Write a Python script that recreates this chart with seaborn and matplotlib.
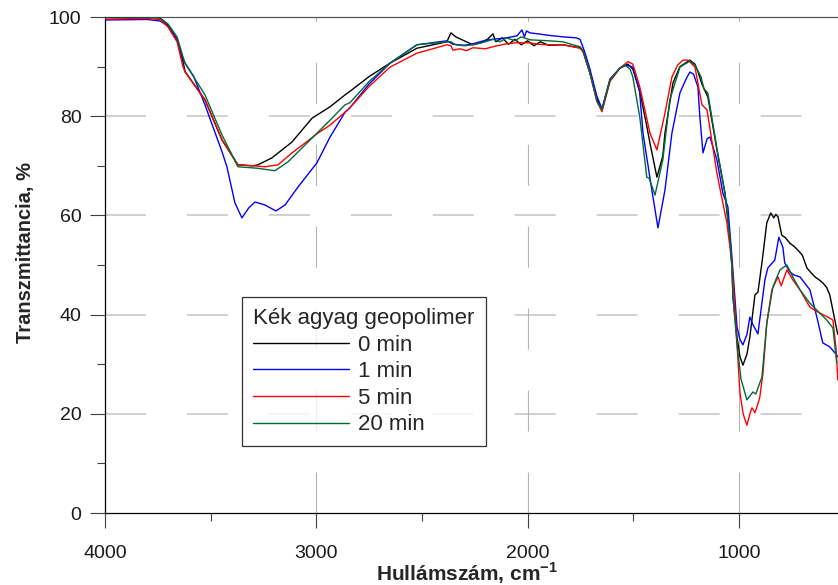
import matplotlib
matplotlib.use("Agg")
import matplotlib.pyplot as plt
import seaborn as sns
import pandas as pd
from matplotlib.lines import Line2D

# ---------------- data ----------------
series_names = ["0 min", "1 min", "5 min", "20 min"]
series_colors = ["#000000", "#0000ff", "#ff0000", "#006b35"]
legend_title = "Kék agyag geopolimer"
x_label = "Hullámszám, cm$^{\\mathbf{-1}}$"
y_label = "Transzmittancia, %"
x_ticks = [4000, 3000, 2000, 1000]
y_ticks = [0, 20, 40, 60, 80, 100]

wn_0 = [4000, 3800, 3740, 3702, 3659, 3631, 3621, 3527, 3446, 3371, 3300, 3276, 3210, 3115, 3020, 2935,
        2864, 2841, 2750, 2651, 2524, 2382, 2363, 2340, 2300, 2259, 2220, 2190, 2164, 2150, 2120, 2090,
        2060, 2030, 2000, 1970, 1940, 1900, 1833, 1752, 1738, 1705, 1672, 1648, 1610, 1563, 1525, 1502,
        1469, 1436, 1421, 1388, 1360, 1350, 1312, 1279, 1232, 1208, 1194, 1175, 1165, 1147, 1104, 1066,
        1043, 1033, 1028, 1009, 995, 981, 962, 948, 924, 910, 891, 868, 849, 835, 825, 815, 797, 780,
        759, 740, 721, 700, 678, 660, 640, 620, 603, 585, 570, 546, 532]
t_0 = [100.0, 100.0, 99.8, 98.4, 95.4, 91.0, 89.0, 83.3, 75.2, 70.2, 70.0, 70.2, 71.6, 74.8, 79.6, 81.9,
       84.3, 85.0, 88.0, 90.7, 93.7, 95.0, 96.8, 96.0, 95.2, 94.4, 94.8, 95.5, 96.6, 95.0, 95.8, 94.5,
       95.5, 94.4, 95.2, 94.2, 95.0, 94.3, 94.4, 93.8, 93.2, 88.7, 83.5, 81.3, 87.3, 89.7, 90.5, 89.5,
       85.0, 78.0, 74.6, 67.7, 72.0, 76.6, 86.7, 90.0, 91.3, 90.5, 89.0, 86.5, 85.5, 83.9, 73.2, 64.5,
       55.6, 49.6, 43.5, 35.5, 31.5, 29.8, 32.0, 35.5, 44.0, 44.5, 50.4, 58.5, 60.5, 59.5, 60.2, 59.7, 56.0, 55.5,
       54.4, 53.8, 53.0, 52.0, 49.4, 48.5, 47.6, 47.0, 46.4, 45.5, 44.0, 38.9, 36.0]

wn_1 = [4000, 3800, 3740, 3702, 3659, 3631, 3621, 3580, 3527, 3446, 3423, 3385, 3352, 3320, 3290, 3243,
        3191, 3148, 3087, 2997, 2935, 2864, 2841, 2750, 2651, 2524, 2382, 2353, 2300, 2259, 2200, 2164,
        2100, 2050, 2027, 2015, 2005, 1989, 1950, 1900, 1833, 1770, 1752, 1730, 1705, 1672, 1648, 1610,
        1563, 1535, 1502, 1470, 1454, 1412, 1383, 1350, 1317, 1279, 1250, 1232, 1215, 1194, 1185, 1170,
        1150, 1137, 1104, 1076, 1052, 1033, 1020, 1009, 995, 981, 962, 948, 934, 910, 877, 863, 830, 811,
        792, 783, 759, 740, 711, 664, 631, 603, 570, 546, 532]
t_1 = [99.4, 99.5, 99.2, 98.2, 95.4, 91.5, 90.7, 88.0, 82.3, 72.8, 69.8, 62.5, 59.5, 61.5, 62.7, 62.1,
       60.9, 62.1, 65.7, 70.6, 75.8, 80.8, 81.7, 86.5, 90.7, 94.4, 95.2, 94.5, 94.3, 94.6, 95.3, 95.5,
       95.8, 96.2, 97.4, 96.0, 97.2, 96.8, 96.6, 96.3, 96.0, 95.8, 95.5, 93.0, 89.5, 84.0, 81.5, 87.5,
       89.7, 90.3, 89.9, 85.0, 76.6, 65.1, 57.5, 65.1, 76.6, 84.7, 87.5, 88.9, 88.5, 85.9, 80.0, 72.6,
       75.5, 75.8, 71.2, 64.5, 61.7, 51.6, 44.0, 37.5, 35.0, 33.9, 36.0, 39.5, 38.0, 36.1, 47.0, 49.4, 51.0, 55.6,
       53.6, 50.4, 48.6, 48.0, 47.6, 45.0, 39.5, 34.3, 33.5, 32.3, 31.5]

wn_5 = [4000, 3800, 3740, 3702, 3659, 3631, 3621, 3527, 3446, 3371, 3300, 3243, 3181, 3115, 2992, 2935,
        2864, 2841, 2750, 2651, 2524, 2382, 2363, 2353, 2320, 2290, 2259, 2200, 2164, 2100, 2050, 1989,
        1950, 1900, 1833, 1752, 1738, 1705, 1672, 1648, 1610, 1563, 1525, 1502, 1469, 1421, 1388, 1350,
        1317, 1290, 1265, 1240, 1208, 1175, 1151, 1104, 1057, 1033, 1020, 995, 980, 962, 948, 938, 924,
        910, 901, 886, 868, 844, 815, 800, 773, 745, 711, 664, 617, 579, 555, 540, 532]
t_5 = [99.6, 99.7, 99.5, 98.0, 95.0, 90.0, 88.9, 83.3, 75.2, 70.2, 70.0, 69.8, 70.2, 72.6, 76.6, 78.2,
       80.8, 81.7, 86.0, 89.9, 92.7, 94.4, 94.2, 93.3, 93.6, 93.2, 93.8, 93.6, 94.0, 94.6, 94.8, 94.8,
       94.5, 94.4, 94.4, 93.7, 93.0, 88.7, 83.0, 80.9, 87.0, 89.7, 91.0, 90.5, 85.9, 76.6, 73.2, 80.6,
       87.9, 90.3, 91.3, 91.3, 89.9, 82.3, 81.3, 68.5, 58.5, 50.4, 42.0, 24.2, 20.0, 17.7, 20.0, 21.2, 20.2,
       22.0, 23.4, 28.2, 38.3, 45.0, 47.6, 45.8, 49.0, 47.0, 45.0, 41.5, 40.3, 39.5, 38.9, 33.0, 26.8]

wn_20 = [4000, 3800, 3740, 3702, 3659, 3631, 3621, 3527, 3446, 3371, 3276, 3196, 3134, 3020, 2935, 2864,
         2841, 2750, 2651, 2524, 2382, 2363, 2340, 2300, 2259, 2200, 2164, 2130, 2100, 2060, 2030, 1989,
         1900, 1833, 1752, 1738, 1705, 1672, 1648, 1610, 1563, 1540, 1515, 1502, 1469, 1436, 1425, 1397,
         1360, 1327, 1279, 1232, 1208, 1180, 1165, 1147, 1104, 1066, 1043, 1033, 1028, 1009, 990, 962, 934,
         920, 891, 868, 839, 806, 773, 745, 711, 664, 617, 584, 555, 537]
t_20 = [100.0, 100.0, 99.8, 98.6, 96.0, 92.0, 90.7, 84.3, 76.2, 69.8, 69.5, 69.0, 70.8, 75.6, 79.2, 82.3,
        82.7, 87.0, 90.7, 94.4, 95.0, 95.0, 94.4, 94.2, 94.4, 95.0, 95.5, 95.0, 95.8, 95.2, 96.0, 95.4,
        95.2, 95.0, 94.0, 93.3, 88.7, 83.0, 81.3, 87.3, 89.7, 90.3, 89.5, 87.9, 79.8, 67.7, 67.5, 64.1,
        71.2, 83.3, 89.9, 91.1, 90.3, 88.0, 85.5, 84.7, 73.5, 64.5, 55.6, 49.6, 43.5, 34.0, 27.0, 22.8, 24.4,
        24.0, 27.4, 38.3, 45.6, 49.0, 50.0, 47.6, 45.0, 42.3, 40.3, 38.9, 37.3, 30.2]

# ---------------- build table ----------------
frames = []
for name, wn, t in zip(series_names, [wn_0, wn_1, wn_5, wn_20], [t_0, t_1, t_5, t_20]):
    frames.append(pd.DataFrame({"wn": wn, "T": t, "series": name}))
df = pd.concat(frames, ignore_index=True)

# ---------------- style ----------------
sns.set_style("white")
plt.rcParams["font.family"] = ["Liberation Sans", "DejaVu Sans"]
plt.rcParams["mathtext.fontset"] = "custom"
plt.rcParams["mathtext.rm"] = "Liberation Sans"
plt.rcParams["mathtext.bf"] = "Liberation Sans:bold"
plt.rcParams["lines.scale_dashes"] = False

fig = plt.figure(figsize=(8.38, 5.85), dpi=100)
ax = fig.add_axes([105 / 838, 72 / 585, 733 / 838, 496 / 585])

# dashed grid (drawn under the data)
dash = (0, (29.5, 29.5))
for yv in [20, 40, 60, 80]:
    ax.axhline(yv, color="#c4c4c4", lw=1.1, linestyle=dash, zorder=0)
for xv in [3000, 2000, 1000]:
    ax.axvline(xv, color="#b4b4b4", lw=0.8, linestyle=dash, zorder=0)

sns.lineplot(data=df, x="wn", y="T", hue="series", palette=series_colors,
             hue_order=series_names, sort=False, estimator=None, lw=1.0, ax=ax, zorder=3)

ax.set_xlim(4000, 531)
ax.set_ylim(0, 100)
ax.set_xticks(x_ticks)
ax.set_xticks([3500, 2500, 1500], minor=True)
ax.set_yticks(y_ticks)
ax.set_yticks([10, 30, 50, 70, 90], minor=True)
ax.tick_params(axis="both", which="major", direction="out", length=11, width=0.8,
               color="#404040", labelsize=14, labelcolor="#1a1a1a")
ax.tick_params(axis="both", which="minor", direction="out", length=5.8, width=0.8, color="#404040")
ax.tick_params(axis="x", which="major", pad=12)
ax.tick_params(axis="y", which="major", pad=6)
ax.tick_params(bottom=True, left=True, which="both")

for side in ["left", "bottom"]:
    ax.spines[side].set_color("#000000")
    ax.spines[side].set_linewidth(0.9)
ax.spines["top"].set_color("#555555")
ax.spines["top"].set_linewidth(0.9)
ax.spines["right"].set_visible(False)

ax.set_xlabel(x_label, fontsize=15, fontweight="bold")
ax.set_ylabel(y_label, fontsize=14.5, fontweight="bold")
ax.xaxis.set_label_coords(0.494, -0.121)
ax.xaxis.label.set_verticalalignment("center")
ax.yaxis.set_label_coords(-0.108, 0.526)
ax.yaxis.label.set_verticalalignment("center")

handles = [Line2D([], [], color=c, lw=1.0) for c in series_colors]
leg = ax.legend(handles, series_names, title=legend_title, loc="upper left",
                bbox_to_anchor=(242 / 838, 1 - 297 / 585), bbox_transform=fig.transFigure,
                borderaxespad=0, fontsize=16, title_fontsize=16, handlelength=4.3,
                handletextpad=0.4, labelspacing=0.25, borderpad=0.5, frameon=True,
                fancybox=False, alignment="left")
leg.get_frame().set_edgecolor("#000000")
leg.get_frame().set_linewidth(0.9)

fig.savefig("out.png", dpi=100)
